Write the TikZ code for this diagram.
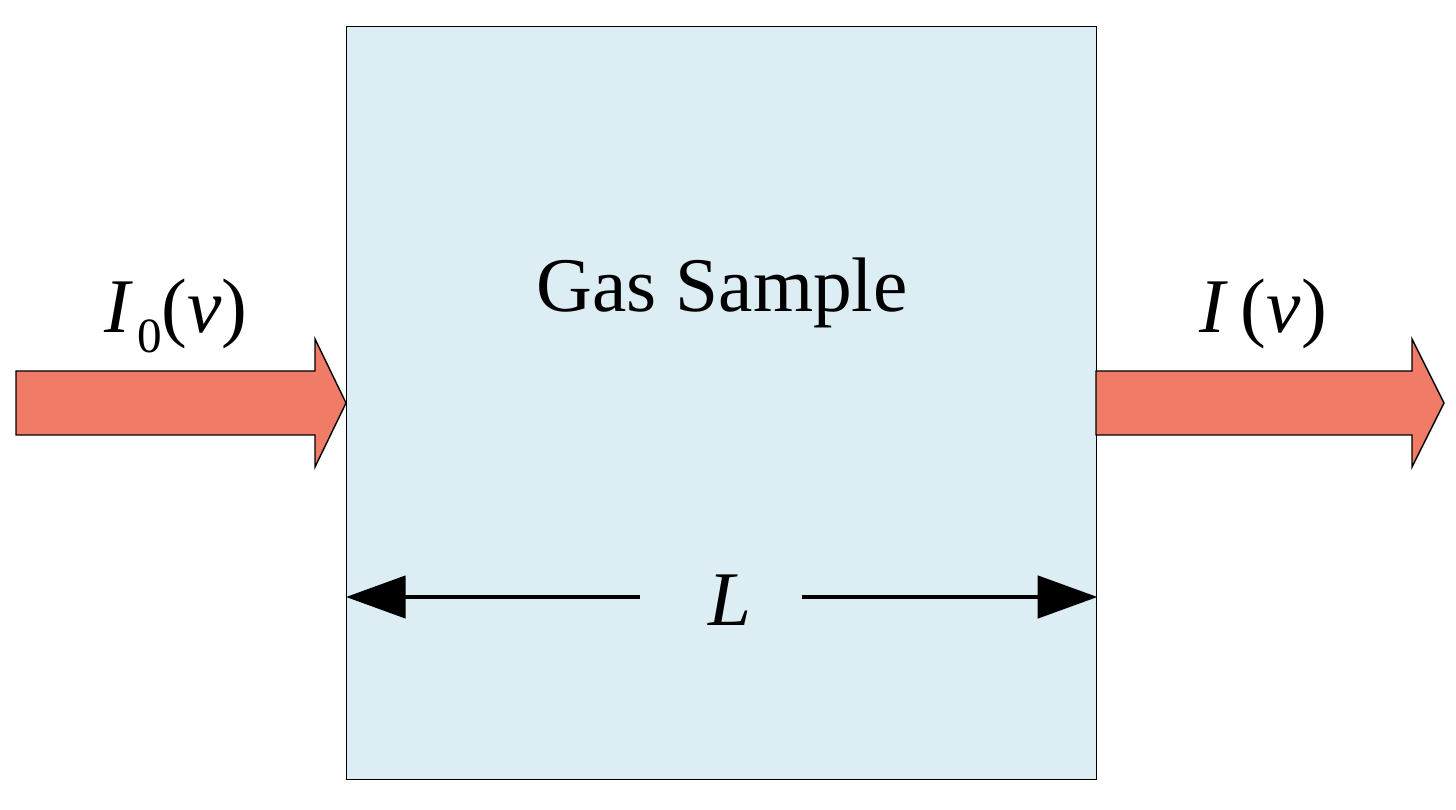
\documentclass[tikz,border=0pt]{standalone}
\usepackage{fontspec}
\setmainfont{Liberation Serif}
\usetikzlibrary{arrows.meta}
\definecolor{boxblue}{HTML}{DCEEF4}
\definecolor{beam}{HTML}{F07C67}
\begin{document}
\begin{tikzpicture}[x=0.02cm,y=-0.02cm,
  beamarrow/.style={fill=beam,draw=black,line width=0.8pt},
  lbl/.style={font=\fontsize{44}{48}\selectfont, inner sep=0pt},
  dim/.style={line width=2.4pt,-{Triangle[length=34pt,width=24pt]}}]
\useasboundingbox (0,0) rectangle (1456,810);
\node[draw=black,fill=boxblue,line width=0.8pt,minimum width=750*0.02cm,minimum height=753*0.02cm,inner sep=0pt,anchor=north west] (box) at (346,26) {};
\draw[beamarrow] (16,371) -- (315,371) -- (315,339) -- (346,403) -- (315,467) -- (315,435) -- (16,435) -- cycle;
\draw[beamarrow] (1096,371) -- (1412,371) -- (1412,339) -- (1444,403) -- (1412,467) -- (1412,435) -- (1096,435) -- cycle;
\node[lbl] (gas) at (722,293) {Gas Sample};
\node[lbl] (i0) at (176,316) {\textit{I}\kern0.05em\raisebox{-0.25em}{\fontsize{28}{30}\selectfont 0}(\textit{v})};
\node[lbl] (i1) at (1263,314) {\textit{I}\,(\textit{v})};
\node[lbl] (L) at (730,600) {\textit{L}};
\coordinate (la) at (640,597);
\coordinate (rb) at (802,597);
\draw[dim] (la) -- (box.west |- la);
\draw[dim] (rb) -- (box.east |- rb);
\end{tikzpicture}
\end{document}
